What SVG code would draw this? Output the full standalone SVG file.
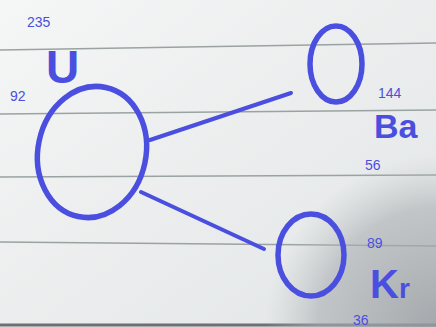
<svg xmlns="http://www.w3.org/2000/svg" width="436" height="327" viewBox="0 0 436 327">
<defs>
<radialGradient id="shade" cx="440" cy="330" r="175" gradientUnits="userSpaceOnUse">
<stop offset="0" stop-color="#979ca0" stop-opacity="0.85"/>
<stop offset="0.7" stop-color="#a9aeb1" stop-opacity="0.6"/>
<stop offset="1" stop-color="#c0c4c6" stop-opacity="0"/>
</radialGradient>
<linearGradient id="paper" x1="0" y1="0" x2="1" y2="1">
<stop offset="0" stop-color="#f5f6f6"/>
<stop offset="1" stop-color="#e2e5e6"/>
</linearGradient>
</defs>
<style>
.rule{stroke:#9aa2a2;stroke-width:1.6;fill:none}
.ink{stroke:#4a4fe0;fill:none;stroke-linecap:round}
.atom{stroke-width:5.5}
.bond{stroke-width:4}
.sym{font-family:"Liberation Sans",Arial,sans-serif;font-weight:bold;fill:#4a4fe0}
.num{font-family:"Liberation Sans",Arial,sans-serif;fill:#4a4fe0;font-size:14px}
</style>
<rect x="0" y="0" width="436" height="327" fill="url(#paper)"/>
<g id="ruling">
<line class="rule" x1="0" y1="50" x2="436" y2="43"/>
<line class="rule" x1="0" y1="114" x2="436" y2="110"/>
<line class="rule" x1="0" y1="177" x2="436" y2="175"/>
<line class="rule" x1="0" y1="242" x2="436" y2="246"/>
<line x1="0" y1="325" x2="436" y2="325" stroke="#6d6f70" stroke-width="3"/>
</g>
<rect x="0" y="0" width="436" height="327" fill="url(#shade)"/>
<g id="connectors">
<line class="ink bond" x1="150" y1="140" x2="291" y2="93"/>
<line class="ink bond" x1="141" y1="192" x2="264" y2="249"/>
</g>
<g id="U">
<ellipse class="ink atom" cx="92" cy="152" rx="54" ry="66" transform="rotate(12 92 152)"/>
<text class="sym" x="46" y="83" font-size="46">U</text>
<text class="num" x="27" y="27">235</text>
<text class="num" x="10" y="101" font-size="16">92</text>
</g>
<g id="Ba">
<ellipse class="ink atom" cx="336" cy="64" rx="26" ry="38"/>
<text class="sym" x="374" y="138" font-size="34">Ba</text>
<text class="num" x="378" y="98">144</text>
<text class="num" x="365" y="170">56</text>
</g>
<g id="Kr">
<ellipse class="ink atom" cx="311" cy="255" rx="33" ry="41"/>
<text class="sym" x="370" y="298" font-size="40">K<tspan font-size="28">r</tspan></text>
<text class="num" x="367" y="248">89</text>
<text class="num" x="353" y="325" font-size="16">36</text>
</g>
</svg>
